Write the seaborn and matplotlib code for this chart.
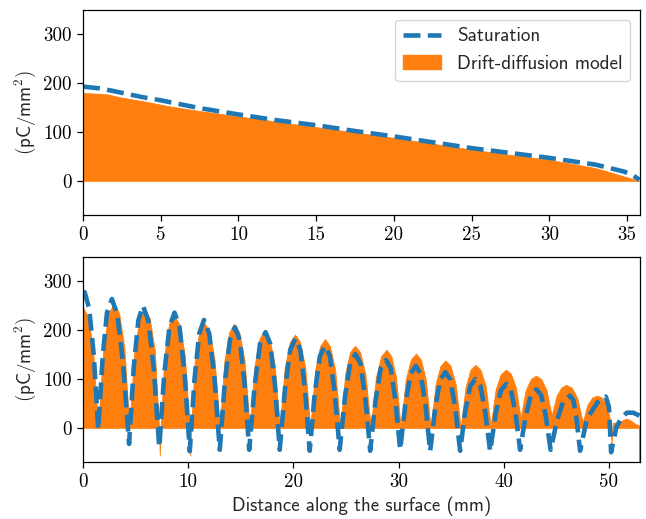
import matplotlib
matplotlib.use("Agg")
import matplotlib.pyplot as plt
import seaborn as sns
import pandas as pd
from matplotlib.lines import Line2D
from matplotlib.patches import Patch

# ---------------- data ----------------
top_x_sat = [0, 1.2, 2.4, 3.9, 5.0, 7.5, 10, 12.5, 15, 17.5, 20, 22.5, 25, 27.5, 30, 33, 34.8, 35.4, 35.8]
top_sat = [193, 189, 181, 171, 165, 149, 136, 124, 114, 102, 91, 79, 67, 57, 47, 33, 19, 11, 2]
top_x_dd = [0, 1.2, 1.6, 2.4, 3.9, 5.5, 7.5, 10, 12.5, 15, 17.5, 20, 22.5, 25, 27.5, 30, 33, 34.8, 35.8]
top_dd = [180, 178, 177, 171, 163, 153, 143, 132, 121, 110, 99, 88, 76, 64, 53, 43, 26, 9, 0]

bot_x_sat = [0, 0.16, 0.59, 1.02, 1.45,
             1.87, 2.28, 2.75, 3.26, 3.82, 4.38,
             4.82, 5.26, 5.7, 6.22, 6.73, 7.25,
             7.73, 8.22, 8.7, 9.18, 9.67, 10.15,
             10.6, 11.05, 11.5, 12.0, 12.5, 13.0,
             13.48, 13.97, 14.45, 14.9, 15.35, 15.8,
             16.32, 16.83, 17.35, 17.8, 18.25, 18.7,
             19.2, 19.7, 20.2, 20.65, 21.1, 21.55,
             22.03, 22.52, 23.0, 23.47, 23.93, 24.4,
             24.9, 25.4, 25.9, 26.37, 26.83, 27.3,
             27.8, 28.3, 28.8, 29.25, 29.7, 30.15,
             30.65, 31.15, 31.65, 32.1, 32.55, 33.0,
             33.48, 33.97, 34.45, 34.92, 35.38, 35.85,
             36.33, 36.82, 37.3, 37.77, 38.23, 38.7,
             39.22, 39.73, 40.25, 40.68, 41.12, 41.55,
             42.07, 42.58, 43.1, 43.55, 44.0, 44.45,
             45.07, 45.68, 46.3, 46.62, 46.93, 47.25,
             47.9, 48.9, 49.7, 50.0, 50.2,
             50.7, 51.2, 51.7, 52.3, 52.9]
bot_sat = [276, 278, 244, 150, -3,
           145, 236, 264, 232, 130, -33,
           123, 220, 250, 219, 120, -40,
           112, 207, 236, 206, 108, -48,
           100, 193, 221, 193, 102, -45,
           93, 180, 206, 180, 93, -45,
           87, 172, 196, 172, 87, -45,
           80, 160, 183, 160, 79, -47,
           71, 147, 168, 147, 72, -45,
           63, 133, 151, 132, 62, -47,
           55, 122, 139, 122, 56, -45,
           50, 111, 127, 110, 48, -48,
           41, 99, 114, 99, 41, -47,
           34, 86, 100, 86, 33, -48,
           28, 77, 90, 78, 29, -45,
           23, 67, 79, 67, 23, -45,
           16, 56, 66, 56, 15, -47,
           18, 52, 64, 42, -50,
           1, 21, 31, 31, 25]

bot_x_dd = [0, 0.48, 0.95, 1.43,
            1.94, 2.44, 2.95, 3.43, 3.92, 4.4,
            4.89, 5.37, 5.86, 6.34, 6.82, 7.22, 7.3, 7.38,
            7.74, 8.18, 8.62, 9.15, 9.67, 10.12, 10.2, 10.28,
            10.63, 11.07, 11.5, 12.0, 12.5, 13.0,
            13.45, 13.9, 14.35, 14.85, 15.35, 15.85,
            16.32, 16.78, 17.25, 17.73, 18.22, 18.7,
            19.18, 19.67, 20.15, 20.63, 21.12, 21.6,
            22.07, 22.53, 23.0, 23.48, 23.97, 24.45,
            24.92, 25.38, 25.85, 26.35, 26.85, 27.35,
            27.85, 28.35, 28.85, 29.3, 29.75, 30.2,
            30.68, 31.17, 31.65, 32.12, 32.58, 33.05,
            33.52, 33.98, 34.45, 34.93, 35.42, 35.9,
            36.37, 36.83, 37.3, 37.78, 38.27, 38.75,
            39.23, 39.72, 40.2, 40.67, 41.13, 41.6,
            42.08, 42.57, 43.05, 43.55, 44.05, 44.55,
            45.02, 45.48, 45.95, 46.47, 46.98, 47.5,
            47.95, 48.4, 48.85, 49.32, 49.78, 50.15, 50.25, 50.35,
            51.0, 51.35, 51.65, 52.0, 52.5, 52.85, 52.9]
bot_dd = [247, 227, 161, 0,
          166, 235, 255, 235, 166, 0,
          159, 224, 244, 224, 159, 0, -57, 0,
          150, 213, 231, 213, 150, 0, -57, 0,
          140, 199, 216, 199, 140, 0,
          138, 196, 213, 196, 138, 0,
          129, 183, 199, 183, 129, 0,
          124, 176, 191, 176, 124, 0,
          118, 167, 182, 167, 118, 0,
          109, 155, 168, 155, 109, 0,
          104, 147, 160, 147, 104, 0,
          99, 140, 152, 140, 99, 0,
          90, 127, 138, 127, 90, 0,
          84, 119, 129, 119, 86, 5,
          79, 110, 119, 111, 84, 20,
          77, 100, 107, 100, 78, 25,
          66, 83, 88, 82, 61, 11,
          47, 62, 66, 62, 47, 12, -37, 10,
          12, 16, 19, 16, 8, 5, -90]

top_xticks = [0, 5, 10, 15, 20, 25, 30, 35]
bot_xticks = [0, 10, 20, 30, 40, 50]
yticks = [0, 100, 200, 300]

label_sat = "Saturation"
label_dd = "Drift-diffusion model"
ylabel = r"$(\mathsf{pC}/\mathsf{mm}^2)$"
xlabel = "Distance along the surface (mm)"

# ---------------- style ----------------
sns.set_theme(style="ticks")
plt.rcParams.update({
    "font.family": ["cmr10", "DejaVu Serif"],
    "mathtext.fontset": "cm",
    "axes.unicode_minus": False,
    "axes.formatter.use_mathtext": True,
    "axes.edgecolor": "black",
    "axes.linewidth": 0.9,
    "xtick.color": "black",
    "ytick.color": "black",
    "xtick.major.size": 4.5,
    "ytick.major.size": 4.5,
    "xtick.major.width": 0.9,
    "ytick.major.width": 0.9,
    "xtick.labelsize": 13.6,
    "ytick.labelsize": 13.6,
    "axes.labelsize": 13.6,
})

BLUE = "#1f77b4"
ORANGE = "#ff7f0e"

fig = plt.figure(figsize=(6.46, 5.19), dpi=100)
ax1 = fig.add_axes([83 / 646, 1 - 215 / 519, (639.5 - 83) / 646, 205 / 519])
ax2 = fig.add_axes([83 / 646, 1 - 462 / 519, (639.5 - 83) / 646, 205 / 519])

top_sat_df = pd.DataFrame({"x": top_x_sat, "y": top_sat})
bot_sat_df = pd.DataFrame({"x": bot_x_sat, "y": bot_sat})

def draw(ax, xd, yd, sat_df, xlim, xticks):
    ax.fill_between(xd, 0, yd, color=ORANGE, linewidth=0.6, edgecolor=ORANGE, zorder=1)
    sns.lineplot(data=sat_df, x="x", y="y", ax=ax, color=BLUE, linewidth=3.3,
                 linestyle="--", estimator=None, sort=False, legend=False, zorder=2)
    ax.set_xlim(*xlim)
    ax.set_ylim(-70, 350)
    ax.set_xticks(xticks)
    ax.set_yticks(yticks)
    ax.set_xticklabels([str(t) for t in xticks])
    ax.set_yticklabels([str(t) for t in yticks])
    ax.set_xlabel("")
    ax.set_ylabel(ylabel, fontsize=13.6)

draw(ax1, top_x_dd, top_dd, top_sat_df, (0, 35.8), top_xticks)
draw(ax2, bot_x_dd, bot_dd, bot_sat_df, (0, 52.9), bot_xticks)

ax2.set_xlabel(xlabel, family="cmss10", fontsize=13.6)

handles = [Line2D([0], [0], color=BLUE, lw=3.3, linestyle="--"),
           Patch(facecolor=ORANGE, edgecolor=ORANGE)]
ax1.legend(handles, [label_sat, label_dd], loc="upper right",
           prop={"family": "cmss10", "size": 13.8}, framealpha=0.8,
           edgecolor="0.8", fancybox=True)

fig.savefig("out.png", dpi=100)
